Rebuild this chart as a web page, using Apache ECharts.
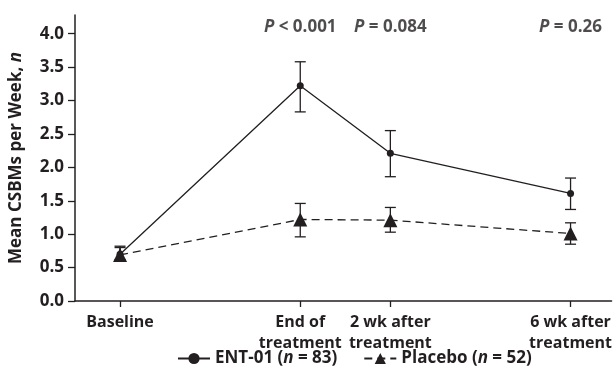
<!DOCTYPE html>
<html>
<head>
<meta charset="utf-8">
<script src="https://cdn.jsdelivr.net/npm/echarts@6/dist/echarts.min.js"></script>
<style>html,body{margin:0;padding:0;background:#fff}#c{width:615px;height:377px}</style>
</head>
<body>
<div id="c"></div>
<script>
// Time points (weeks from baseline) and their labels
var weeks = [0, 4, 6, 10];
var categories = ['Baseline', 'End of\ntreatment', '2 wk after\ntreatment', '6 wk after\ntreatment'];
var yTicks = [0, 0.5, 1.0, 1.5, 2.0, 2.5, 3.0, 3.5, 4.0];

// ENT-01 (n = 83)
var entMean  = [0.70, 3.22, 2.21, 1.61];
var entLower = [0.62, 2.83, 1.86, 1.37];
var entUpper = [0.80, 3.58, 2.55, 1.84];

// Placebo (n = 52)
var plaMean  = [0.69, 1.22, 1.21, 1.01];
var plaLower = [0.61, 0.96, 1.03, 0.85];
var plaUpper = [0.82, 1.46, 1.40, 1.17];

// P values at follow-up points
var pWeeks = [4, 6, 10];
var pTexts = ['< 0.001', '= 0.084', '= 0.26'];

var INK = '#231f20';
var FONT = '"Open Sans", "Noto Sans", sans-serif';
var FS = 17;
var SP = ' ';

function pts(m){ return weeks.map(function(w,i){ return [w, m[i]]; }); }
function errs(lo, hi){ return weeks.map(function(w,i){ return [w, lo[i], hi[i]]; }); }

function errRender(params, api){
  var x = api.value(0);
  var lo = api.coord([x, api.value(1)]);
  var hi = api.coord([x, api.value(2)]);
  var hw = 5.5;
  var st = {stroke: INK, lineWidth: 1.3};
  return {type:'group', children:[
    {type:'line', shape:{x1:lo[0],y1:lo[1],x2:hi[0],y2:hi[1]}, style:st},
    {type:'line', shape:{x1:lo[0]-hw,y1:lo[1],x2:lo[0]+hw,y2:lo[1]}, style:st},
    {type:'line', shape:{x1:hi[0]-hw,y1:hi[1],x2:hi[0]+hw,y2:hi[1]}, style:st}
  ]};
}

var entName = 'ENT-01 (n = 83)';
var plaName = 'Placebo (n = 52)';
var rich = {
  b: {fontSize: FS, fontWeight: 'bold', color: INK, fontFamily: FONT},
  i: {fontSize: FS, fontWeight: 'bold', fontStyle: 'italic', color: INK, fontFamily: FONT}
};

var chart = echarts.init(document.getElementById('c'), null, {renderer:'canvas'});
chart.setOption({
  animation: false,
  textStyle: {fontFamily: FONT},
  grid: {left: 75, right: 0, top: 15, bottom: 76, containLabel: false},
  legend: {
    bottom: 5, left: 172,
    itemWidth: 32, itemHeight: 14, itemGap: 26,
    data: [entName, plaName],
    formatter: function(n){
      if (n === entName) return '{b|ENT-01 (}{i|n}{b|' + SP + '=' + SP + '83)}';
      return '{b|Placebo (}{i|n}{b|' + SP + '=' + SP + '52)}';
    },
    textStyle: {color: INK, fontSize: FS, fontWeight: 'bold', fontFamily: FONT, rich: rich}
  },
  xAxis: {
    type: 'value', min: -1, max: 10.91,
    splitLine: {show: false},
    axisLine: {onZero: false, lineStyle: {color: INK, width: 1.5}},
    axisTick: {show: true, customValues: weeks, length: 6, lineStyle: {color: INK, width: 1.3}},
    axisLabel: {
      customValues: weeks, margin: 11, color: INK, fontSize: 16, fontWeight: 'bold', lineHeight: 21,
      formatter: function(v){ var i = weeks.indexOf(v); return i >= 0 ? categories[i] : ''; }
    }
  },
  yAxis: {
    type: 'value', min: 0, max: 4.28,
    splitLine: {show: false},
    axisLine: {show: true, onZero: false, lineStyle: {color: INK, width: 1.5}},
    axisTick: {show: true, customValues: yTicks, length: 7, lineStyle: {color: INK, width: 1.3}},
    axisLabel: {
      customValues: yTicks, margin: 11, color: INK, fontSize: FS, fontWeight: 'bold',
      formatter: function(v){ return v.toFixed(1); }
    },
    name: '{b|Mean CSBMs per Week, }{i|n}',
    nameLocation: 'middle', nameGap: 50, nameRotate: 90,
    nameTextStyle: {rich: rich}
  },
  series: [
    {
      name: entName, type: 'line', data: pts(entMean),
      symbol: 'circle', symbolSize: 7,
      lineStyle: {color: INK, width: 1.3},
      itemStyle: {color: INK}, z: 3
    },
    {
      name: plaName, type: 'line', data: pts(plaMean),
      symbol: 'triangle', symbolSize: 14,
      lineStyle: {color: INK, width: 1.3, type: [8, 5]},
      itemStyle: {color: INK}, z: 3
    },
    {type: 'custom', data: errs(entLower, entUpper), renderItem: errRender, z: 2, silent: true},
    {type: 'custom', data: errs(plaLower, plaUpper), renderItem: errRender, z: 2, silent: true},
    {
      type: 'scatter', symbolSize: 0, silent: true,
      data: pWeeks.map(function(w){ return [w, 4.1]; }),
      label: {
        show: true, position: 'inside',
        formatter: function(p){ return '{i|P}{b| ' + pTexts[p.dataIndex] + '}'; },
        rich: rich
      }
    }
  ]
});
</script>
</body>
</html>
